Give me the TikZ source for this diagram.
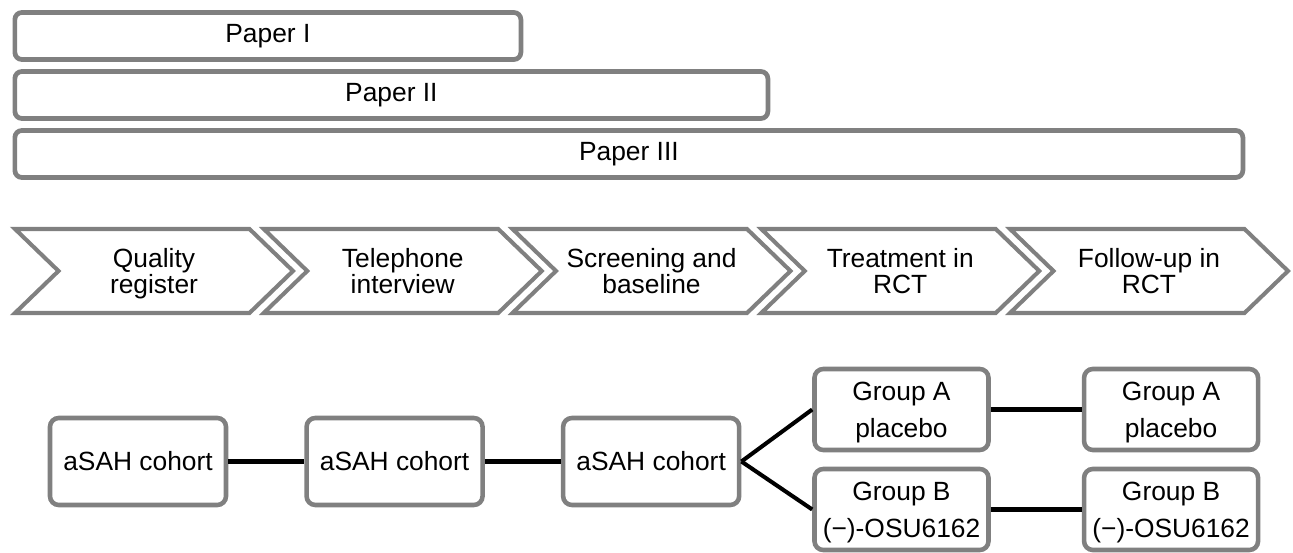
\documentclass[tikz,border=0pt]{standalone}
\usepackage{fontspec}
\setmainfont{Liberation Sans}
\usetikzlibrary{positioning}
\usetikzlibrary{shapes.symbols}
\definecolor{framegray}{RGB}{128,128,128}
\setlength{\lineskiplimit}{-10pt}

\begin{document}
\begin{tikzpicture}[
    paperbox/.style={draw=framegray, line width=2.7pt, rounded corners=4pt,
        minimum height=0.94cm, inner sep=0pt, anchor=west,
        font=\fontsize{15}{18}\selectfont},
    stage/.style={signal, signal from=west, signal to=east, signal pointer angle=88,
        draw=framegray, line width=2.3pt, fill=white, minimum width=5.56cm,
        minimum height=1.68cm, inner sep=0pt, align=center, text depth=0pt,
        font=\fontsize{15}{14.8}\selectfont},
    cohort/.style={draw=framegray, line width=2.6pt, rounded corners=5pt,
        minimum width=3.52cm, minimum height=1.74cm, inner sep=0pt, align=center,
        font=\fontsize{15}{21}\selectfont},
    group/.style={cohort, minimum width=3.48cm, minimum height=1.62cm, text depth=0pt},
    link/.style={line width=2.3pt, black}
]
    \useasboundingbox (0,0) rectangle (25.86,11.06);

    \node[paperbox, minimum width=10.12cm] (P1) at (0.25,10.34) {Paper I};
    \node[paperbox, minimum width=15.06cm] (P2) at (0.25,9.16) {Paper II};
    \node[paperbox, minimum width=24.56cm] (P3) at (0.25,7.98) {Paper III};

    \node[stage] (S1) at (3.08,5.64) {Quality\\register};
    \node[stage] (S2) at (8.055,5.64) {Telephone\\interview};
    \node[stage] (S3) at (13.03,5.64) {Screening and\\baseline};
    \node[stage] (S4) at (18.005,5.64) {Treatment in\\RCT};
    \node[stage] (S5) at (22.98,5.64) {Follow-up in\\RCT};

    \node[cohort] (A1) at (2.76,1.83) {aSAH cohort};
    \node[cohort, right=1.52cm of A1] (A2) {aSAH cohort};
    \node[cohort, right=1.52cm of A2] (A3) {aSAH cohort};

    \node[group] (GA) at (18.03,2.87) {Group A\\placebo};
    \node[group] (GB) at (18.03,0.87) {Group B\\(−)-OSU6162};
    \node[group, right=1.82cm of GA] (fA) {Group A\\placebo};
    \node[group, right=1.82cm of GB] (fB) {Group B\\(−)-OSU6162};

    \draw[link] (A1) -- (A2);
    \draw[link] (A2) -- (A3);
    \draw[link] (A3.east) -- (GA.west);
    \draw[link] (A3.east) -- (GB.west);
    \draw[link] (GA) -- (fA);
    \draw[link] (GB) -- (fB);
\end{tikzpicture}
\end{document}
